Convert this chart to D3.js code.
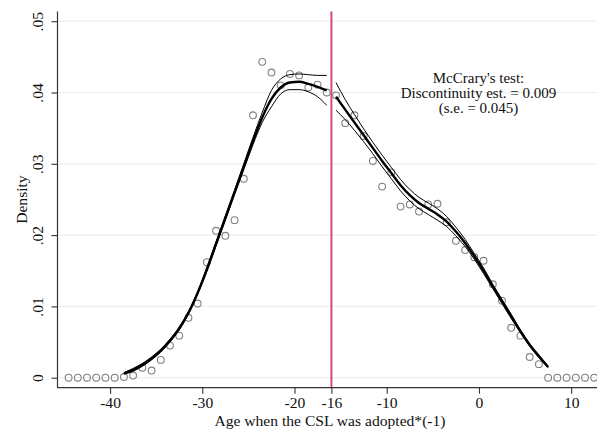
<!DOCTYPE html>
<html>
<head>
<meta charset="utf-8">
<script src="https://cdn.jsdelivr.net/npm/d3@7"></script>
<style>
  body { margin: 0; background: #fff; }
  svg { display: block; font-family: "Liberation Serif", "Times New Roman", serif; }
</style>
</head>
<body>
<div id="chart"></div>
<script>
// bin midpoints and binned density (circles)
var binX = [-44.5, -43.5, -42.5, -41.5, -40.5, -39.5, -38.5, -37.5, -36.5, -35.5,
  -34.5, -33.5, -32.5, -31.5, -30.5, -29.5, -28.5, -27.5, -26.5, -25.5,
  -24.5, -23.5, -22.5, -21.5, -20.5, -19.5, -18.5, -17.5, -16.5, -15.5,
  -14.5, -13.5, -12.5, -11.5, -10.5, -9.5, -8.5, -7.5, -6.5, -5.5,
  -4.5, -3.5, -2.5, -1.5, -0.5, 0.5, 1.5, 2.5, 3.5, 4.5,
  5.5, 6.5, 7.5, 8.5, 9.5, 10.5, 11.5, 12.5];
var binDensity = [0, 0, 0, 0, 0, 0, 0.0001, 0.0003, 0.0014, 0.0010,
  0.0025, 0.0045, 0.0059, 0.0084, 0.0104, 0.0162, 0.0206, 0.0199, 0.0221, 0.0279,
  0.0368, 0.0443, 0.0428, 0.0410, 0.0426, 0.0424, 0.0407, 0.0411, 0.0400, 0.0396,
  0.0357, 0.0368, 0.0339, 0.0304, 0.0268, 0.0288, 0.0240, 0.0243, 0.0233, 0.0243,
  0.0244, 0.0218, 0.0192, 0.0179, 0.0169, 0.0164, 0.0131, 0.0108, 0.0070, 0.0059,
  0.0029, 0.0019, 0, 0, 0, 0, 0, 0];

// left of cutoff: fitted density and 95% CI
var leftX = [-38.5, -37.5, -36.5, -35.5, -34.5, -33.5, -32.5, -31.5, -30.5, -29.5,
  -28.5, -27.5, -26.5, -25.5, -24.5, -23.5, -22.5, -21.5, -20.5, -19.5,
  -18.5, -17.5, -16.5];
var leftFit = [0.0006, 0.0011, 0.0018, 0.0027, 0.0038, 0.0052, 0.0069, 0.0091, 0.0119, 0.0152,
  0.0188, 0.0224, 0.0260, 0.0296, 0.0332, 0.0365, 0.0391, 0.0407, 0.0414, 0.0415,
  0.0412, 0.0408, 0.0403];
var leftLo = [0.0005, 0.0009, 0.0016, 0.0025, 0.0036, 0.0050, 0.0067, 0.0089, 0.0117, 0.0149,
  0.0185, 0.0221, 0.0257, 0.0292, 0.0327, 0.0358, 0.0380, 0.0398, 0.0404, 0.0404,
  0.0401, 0.0394, 0.0382];
var leftHi = [0.0007, 0.0013, 0.0020, 0.0029, 0.0040, 0.0054, 0.0071, 0.0093, 0.0121, 0.0155,
  0.0191, 0.0227, 0.0263, 0.0300, 0.0337, 0.0372, 0.0403, 0.0419, 0.0425, 0.0426,
  0.0425, 0.0424, 0.0424];

// right of cutoff
var rightX = [-15.5, -14.5, -13.5, -12.5, -11.5, -10.5, -9.5, -8.5, -7.5, -6.5,
  -5.5, -4.5, -3.5, -2.5, -1.5, -0.5, 0.5, 1.5, 2.5, 3.5,
  4.5, 5.5, 6.5, 7.5];
var rightFit = [0.0394, 0.0376, 0.0358, 0.0340, 0.0322, 0.0304, 0.0287, 0.0270, 0.0256, 0.0245,
  0.0237, 0.0229, 0.0219, 0.0205, 0.0189, 0.0170, 0.0150, 0.0128, 0.0107, 0.0086,
  0.0065, 0.0046, 0.0030, 0.0015];
var rightLo = [0.0375, 0.0362, 0.0347, 0.0331, 0.0314, 0.0296, 0.0279, 0.0262, 0.0248, 0.0237,
  0.0229, 0.0221, 0.0212, 0.0199, 0.0184, 0.0166, 0.0146, 0.0125, 0.0104, 0.0083,
  0.0063, 0.0044, 0.0028, 0.0014];
var rightHi = [0.0414, 0.0390, 0.0369, 0.0349, 0.0330, 0.0312, 0.0295, 0.0278, 0.0264, 0.0253,
  0.0245, 0.0237, 0.0226, 0.0211, 0.0194, 0.0174, 0.0154, 0.0131, 0.0110, 0.0089,
  0.0067, 0.0048, 0.0032, 0.0016];

var cutoff = -16;
var xTicks = [-40, -30, -20, -16, -10, 0, 10];
var yTicks = [0, 0.01, 0.02, 0.03, 0.04, 0.05];
var yTickLabels = ["0", ".01", ".02", ".03", ".04", ".05"];
var noteLines = ["McCrary's test:", "Discontinuity est. = 0.009", "(s.e. = 0.045)"];

var W = 597, H = 436,
  plotLeft = 57.5, plotRight = 597, plotTop = 11.5, plotBottom = 387.7,
  fontSize = 15.6;

var xScale = d3.scaleLinear().domain([-45.7, 12.8]).range([plotLeft, plotRight]);
var yScale = d3.scaleLinear().domain([0, 0.05]).range([377.7, 21.2]);

var svg = d3.select("#chart").append("svg")
  .attr("width", W)
  .attr("height", H);

svg.append("rect").attr("width", W).attr("height", H).attr("fill", "#fff");

// grid lines
svg.append("g").selectAll("line")
  .data(yTicks)
  .enter().append("line")
  .attr("x1", plotLeft).attr("x2", plotRight)
  .attr("y1", d => yScale(d)).attr("y2", d => yScale(d))
  .attr("stroke", "#e9f0f2")
  .attr("stroke-width", 1.2);

// cutoff line
svg.append("line")
  .attr("x1", xScale(cutoff)).attr("x2", xScale(cutoff))
  .attr("y1", plotTop).attr("y2", plotBottom)
  .attr("stroke", "#d24c72")
  .attr("stroke-width", 2);

// binned density
svg.append("g").selectAll("circle")
  .data(binX)
  .enter().append("circle")
  .attr("cx", d => xScale(d))
  .attr("cy", (d, i) => yScale(binDensity[i]))
  .attr("r", 3.4)
  .attr("fill", "none")
  .attr("stroke", "#808080")
  .attr("stroke-width", 1.1);

function drawFit(xs, ys, w) {
  var line = d3.line()
    .x(d => xScale(d))
    .y((d, i) => yScale(ys[i]))
    .curve(d3.curveMonotoneX);
  svg.append("path")
    .datum(xs)
    .attr("d", line)
    .attr("fill", "none")
    .attr("stroke", "#000")
    .attr("stroke-width", w);
}

drawFit(leftX, leftLo, 1);
drawFit(leftX, leftHi, 1);
drawFit(leftX, leftFit, 2.4);
drawFit(rightX, rightLo, 1);
drawFit(rightX, rightHi, 1);
drawFit(rightX, rightFit, 2.4);

// axes
var xAxis = svg.append("g")
  .attr("transform", "translate(0," + plotBottom + ")")
  .call(d3.axisBottom(xScale).tickValues(xTicks).tickSize(6).tickPadding(3.5)
    .tickFormat(d => String(d)));
xAxis.select(".domain").attr("d", "M" + plotLeft + ",0H" + plotRight);

var yAxis = svg.append("g")
  .attr("transform", "translate(" + plotLeft + ",0)")
  .call(d3.axisLeft(yScale).tickValues(yTicks).tickSize(6)
    .tickFormat((d, i) => yTickLabels[i]));
yAxis.select(".domain").attr("d", "M0," + plotTop + "V" + plotBottom);

svg.selectAll(".domain").attr("stroke", "#333").attr("stroke-width", 1.2);
svg.selectAll(".tick line").attr("stroke", "#333").attr("stroke-width", 1.1);
svg.selectAll(".tick text")
  .attr("font-family", "Liberation Serif, Times New Roman, serif")
  .attr("font-size", fontSize)
  .attr("fill", "#111");

yAxis.selectAll(".tick text")
  .attr("transform", "rotate(-90)")
  .attr("x", 0)
  .attr("y", -14.5)
  .attr("dy", 0)
  .attr("text-anchor", "middle");

// axis titles
svg.append("text")
  .attr("x", 330)
  .attr("y", 425.5)
  .attr("text-anchor", "middle")
  .attr("font-size", fontSize)
  .attr("fill", "#111")
  .text("Age when the CSL was adopted*(-1)");

svg.append("text")
  .attr("transform", "translate(27," + ((plotTop + plotBottom) / 2) + ") rotate(-90)")
  .attr("text-anchor", "middle")
  .attr("font-size", fontSize)
  .attr("fill", "#111")
  .text("Density");

// test annotation
svg.append("g").selectAll("text")
  .data(noteLines)
  .enter().append("text")
  .attr("x", 478.5)
  .attr("y", (d, i) => 83.3 + i * 15)
  .attr("text-anchor", "middle")
  .attr("font-size", 15)
  .attr("fill", "#111")
  .text(d => d);
</script>
</body>
</html>
